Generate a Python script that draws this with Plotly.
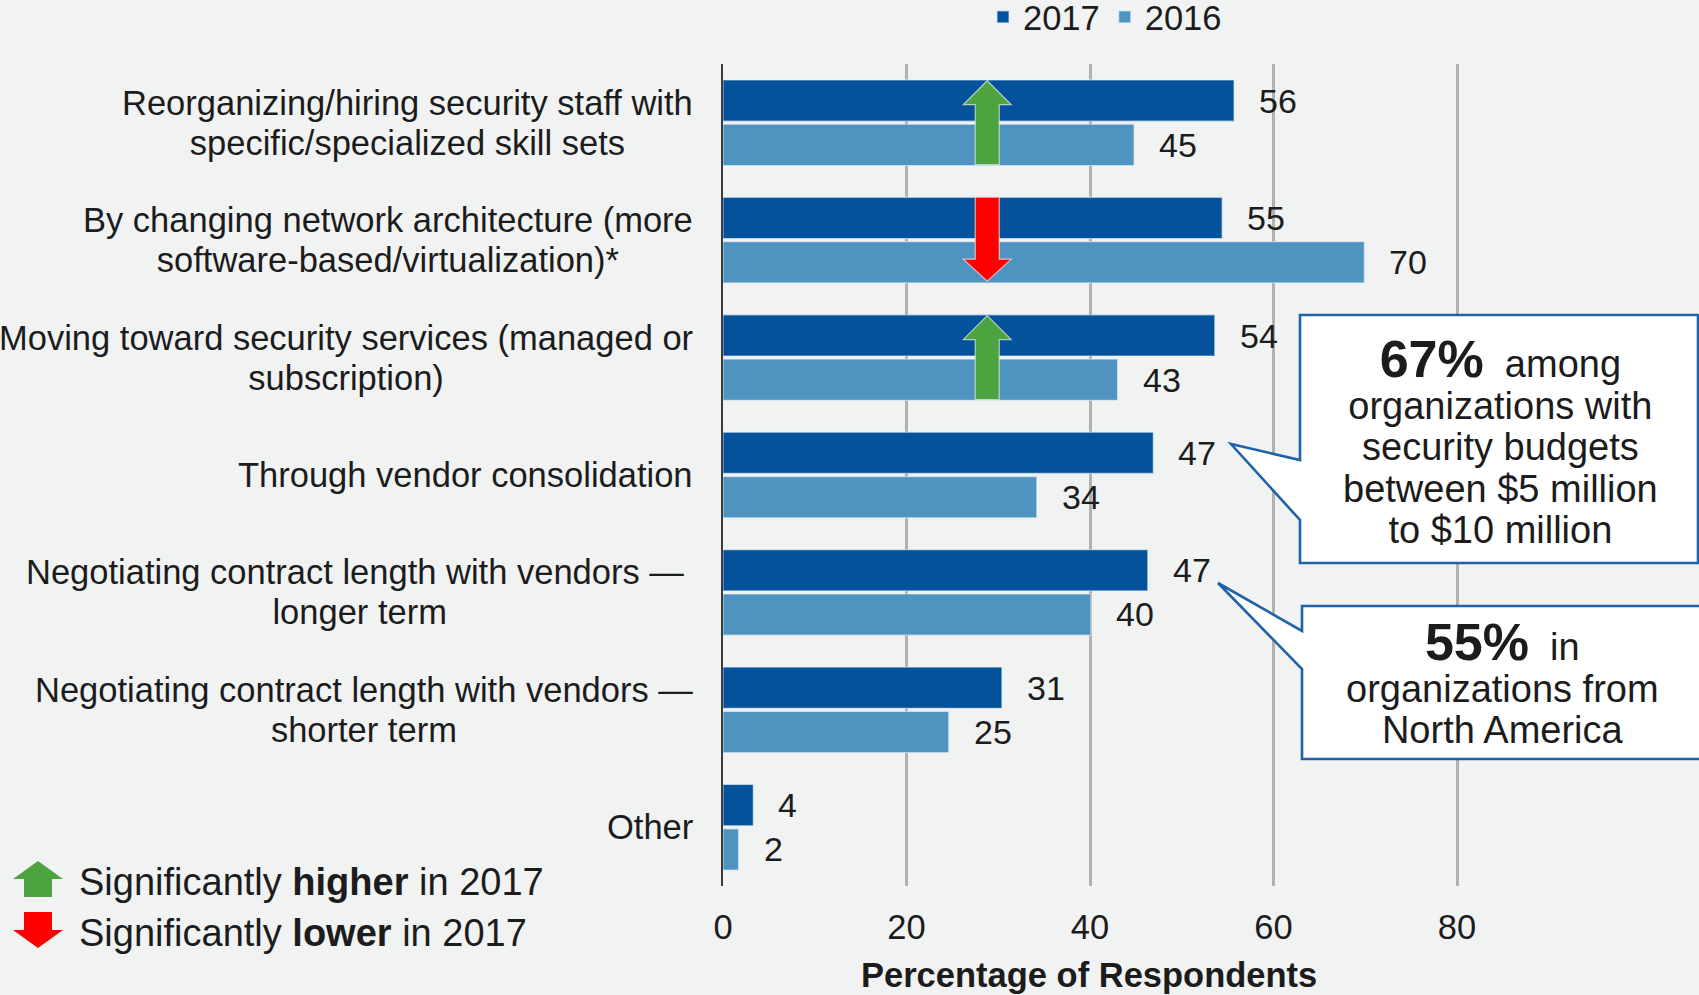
import plotly.graph_objects as go

categories = [
    "Reorganizing/hiring security staff with<br>specific/specialized skill sets",
    "By changing network architecture (more<br>software-based/virtualization)*",
    "Moving toward security services (managed or<br>subscription)",
    "Through vendor consolidation",
    "Negotiating contract length with vendors \u2014 <br>longer term",
    "Negotiating contract length with vendors \u2014<br>shorter term",
    "Other",
]
bars_2017 = [55.7, 54.4, 53.6, 46.9, 46.3, 30.4, 3.3]
bars_2016 = [44.8, 69.9, 43.0, 34.2, 40.1, 24.6, 1.7]
labels_2017 = [56, 55, 54, 47, 47, 31, 4]
labels_2016 = [45, 70, 43, 34, 40, 25, 2]
x_ticks = [0, 20, 40, 60, 80]
arrow_up_groups = [0, 2]
arrow_down_groups = [1]
arrow_x_value = 28.8

W, H = 1699, 995
L, R, T, B = 723, 1699, 64, 886
INK = "#1c1c1c"
FONT = "Liberation Sans"
FS = 34.5
DARK, LIGHT = "#03529b", "#4f94c1"
GREEN, RED = "#4ca33f", "#ff0000"
BLUE_LINE = "#1f62a8"
X_MAX = (R - L) / 9.175
GROUP_H = (B - T) / len(categories)


def px(x):
    return (x - L) / (R - L)


def py(y):
    return (B - y) / (B - T)


def sized(text, size):
    return "<br>".join(f"<span style='font-size:{size}px'>{part}</span>" for part in text.split("<br>"))


def poly(points, fill, line, width):
    path = "M" + " L".join(f"{px(a):.5f},{py(b):.5f}" for a, b in points) + " Z"
    return dict(type="path", xref="paper", yref="paper", path=path, fillcolor=fill,
                line=dict(color=line, width=width), layer="above")


def arrow(cx, top, bottom, up, hw, sw, hh, fill, line="rgba(220,235,220,0.75)"):
    if up:
        pts = [(cx, top), (cx + hw, top + hh), (cx + sw, top + hh), (cx + sw, bottom),
               (cx - sw, bottom), (cx - sw, top + hh), (cx - hw, top + hh)]
    else:
        pts = [(cx, bottom), (cx + hw, bottom - hh), (cx + sw, bottom - hh), (cx + sw, top),
               (cx - sw, top), (cx - sw, bottom - hh), (cx - hw, bottom - hh)]
    return poly(pts, fill, line, 1.2)


fig = go.Figure()
edge = dict(color="rgba(225,235,245,0.65)", width=1.2)
fig.add_bar(name="2017", y=categories, x=bars_2017, orientation="h",
            marker=dict(color=DARK, line=edge))
fig.add_bar(name="2016", y=categories, x=bars_2016, orientation="h",
            marker=dict(color=LIGHT, line=edge))

annotations = []
for c in categories:
    annotations.append(dict(x=0, y=c, xref="x", yref="y", text=sized(c, FS), showarrow=False,
                            xanchor="right", yanchor="middle", align="center", xshift=-28, yshift=0,
                            font=dict(size=30.5, color=INK, family=FONT)))
for c, v17, v16, l17, l16 in zip(categories, bars_2017, bars_2016, labels_2017, labels_2016):
    for v, l, dy in ((v17, l17, 22), (v16, l16, -22)):
        annotations.append(dict(x=v, y=c, xref="x", yref="y", text=str(l), showarrow=False,
                                xanchor="left", yanchor="middle", xshift=23, yshift=dy,
                                font=dict(size=34, color=INK, family=FONT)))


def note(x, y, text, size=FS, xanchor="center", align="center"):
    annotations.append(dict(x=px(x), y=py(y), xref="paper", yref="paper", text=text, showarrow=False,
                            xanchor=xanchor, yanchor="middle", align=align,
                            font=dict(size=size, color=INK, family=FONT)))


note(1500, 440, "<span style='font-size:52px'><b>67%</b></span><span style='font-size:38px'>\u00a0 among</span><br>"
     + sized("organizations with<br>security budgets<br>between $5 million<br>to $10 million", 38), size=32)
note(1502, 682, "<span style='font-size:52px'><b>55%</b></span><span style='font-size:38px'>\u00a0 in</span><br>"
     + sized("organizations from<br>North America", 38), size=32)
note(77, 882, "Significantly <b>higher</b> in 2017", size=38, xanchor="left")
note(77, 933, "Significantly <b>lower</b> in 2017", size=38, xanchor="left")
note(1089, 975, "<b>Percentage of Respondents</b>")

shapes = []
arrow_cx = L + arrow_x_value * 9.175
for i in arrow_up_groups:
    c = T + GROUP_H * (i + 0.5) - 1
    shapes.append(arrow(arrow_cx, c - 41, c + 43, True, 24, 12, 24, GREEN))
for i in arrow_down_groups:
    c = T + GROUP_H * (i + 0.5) - 1
    shapes.append(arrow(arrow_cx, c - 42, c + 42, False, 24, 12, 22, RED, "rgba(245,220,220,0.75)"))
shapes.append(arrow(38, 861, 897, True, 25, 14, 18, GREEN, "rgba(0,0,0,0)"))
shapes.append(arrow(38, 912, 948, False, 25, 14, 18, RED, "rgba(0,0,0,0)"))
shapes.append(poly([(1300, 315), (1698, 315), (1698, 563), (1300, 563), (1300, 520), (1231, 444), (1300, 460)],
                   "#ffffff", BLUE_LINE, 2.6))
shapes.append(poly([(1302, 606), (1705, 606), (1705, 759), (1302, 759), (1302, 669), (1218, 583), (1302, 631)],
                   "#ffffff", BLUE_LINE, 2.6))

fig.update_layout(
    width=W, height=H, autosize=False,
    margin=dict(l=L, r=W - R, t=T, b=H - B, pad=0),
    paper_bgcolor="#f1f3f3", plot_bgcolor="#f1f3f3",
    barmode="group", bargap=0.245, bargroupgap=0.07,
    font=dict(family=FONT, size=FS, color=INK),
    showlegend=True,
    legend=dict(orientation="h", x=px(983), xref="paper", yref="container", y=1 - 17 / H, xanchor="left",
                yanchor="middle", bgcolor="rgba(0,0,0,0)", font=dict(size=FS, color=INK, family=FONT),
                traceorder="normal"),
    annotations=annotations, shapes=shapes,
    xaxis=dict(range=[0, X_MAX], tickvals=x_ticks, ticks="", showgrid=True, gridcolor="#b0b2b2", gridwidth=2.5,
               zeroline=False, showline=False, tickfont=dict(size=34.5, color=INK, family=FONT),
               ticklabelstandoff=17),
    yaxis=dict(autorange="reversed", categoryorder="array", categoryarray=categories, showticklabels=False,
               ticks="", showgrid=False, zeroline=False, showline=True, linecolor="#3c3c3c", linewidth=2),
)
fig.write_html("out.html", config=dict(displayModeBar=False),
               post_script="document.body.style.margin='0';document.body.style.overflow='hidden';")
